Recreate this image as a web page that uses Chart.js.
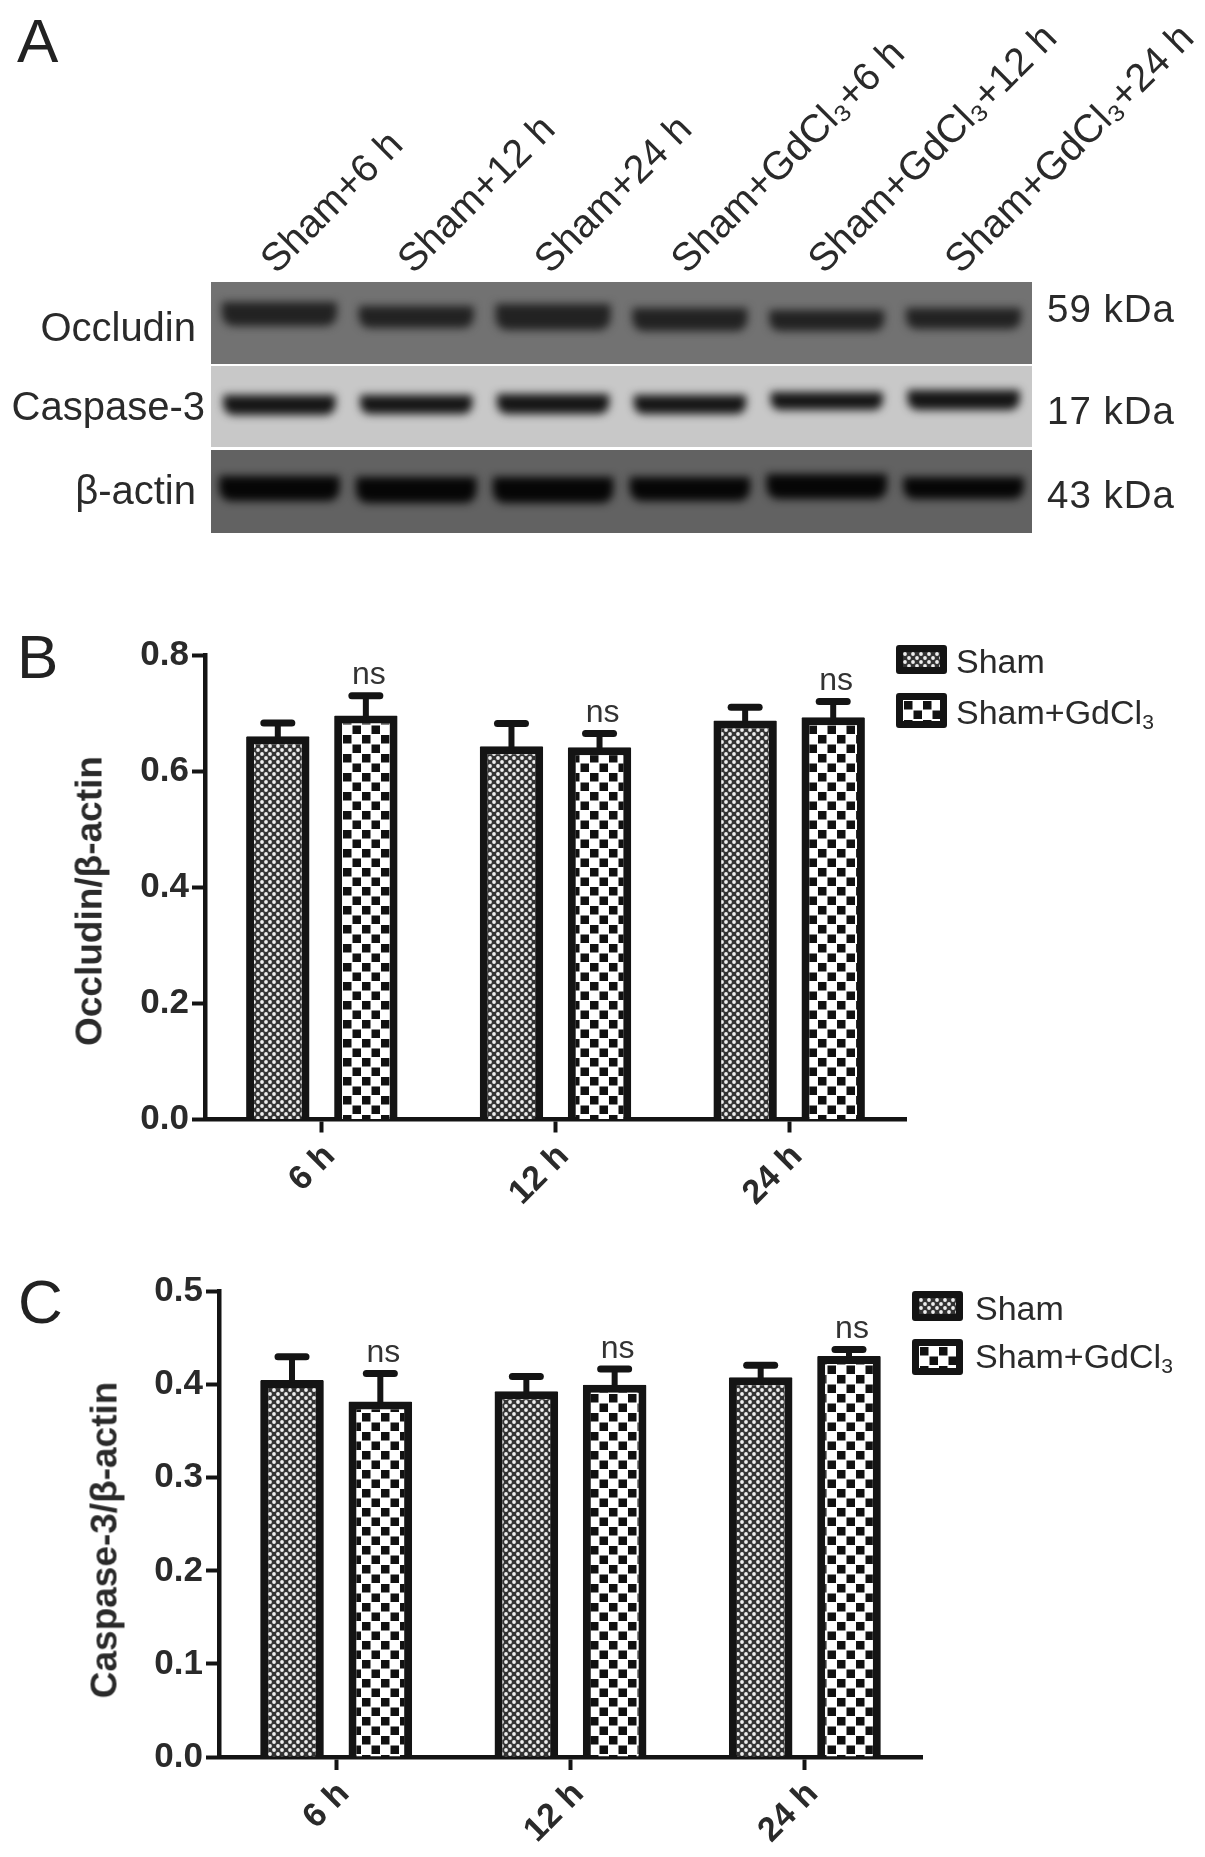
<!DOCTYPE html>
<html>
<head>
<meta charset="utf-8">
<title>Occludin and Caspase-3 blots</title>
<script src="https://cdn.jsdelivr.net/npm/chart.js@4"></script>
<style>
    html, body { margin: 0; padding: 0; background: #fff; }
    #page { position: relative; width: 1205px; height: 1857px; overflow: hidden; font-family: "Liberation Sans", Arial, sans-serif; color: #2a2a2a; }
    canvas { position: absolute; left: 0; filter: blur(0.5px); }
    .lbl { position: absolute; white-space: nowrap; line-height: 1; filter: blur(0.3px); }
    .letter { font-size: 62px; color: #222; }
    .ytitle { font-size: 37px; font-weight: bold; transform: translate(-50%, -50%) rotate(-90deg); }
    .swatch { position: absolute; box-sizing: border-box; border: 7px solid #141414; border-radius: 3px; }
    sub { font-size: 0.62em; line-height: 0; vertical-align: -0.22em; }
</style>
</head>
<body>
<div id="page">
    <canvas id="blotChart" width="1205" height="560" style="top:0"></canvas>
    <canvas id="occludinChart" width="1205" height="610" style="top:620px"></canvas>
    <canvas id="caspaseChart" width="1205" height="597" style="top:1260px"></canvas>
</div>

<script>
// Bar chart data
const timePoints = ['6 h', '12 h', '24 h'];
const seriesNames = ['Sham', 'Sham+GdCl3'];
const occludinSham = [0.660, 0.643, 0.687];
const occludinShamErr = [0.023, 0.039, 0.023];
const occludinGd = [0.696, 0.641, 0.693];
const occludinGdErr = [0.034, 0.024, 0.027];
const caspaseSham = [0.405, 0.393, 0.408];
const caspaseShamErr = [0.025, 0.016, 0.013];
const caspaseGd = [0.382, 0.400, 0.431];
const caspaseGdErr = [0.030, 0.017, 0.007];
const nsLabels = ['ns', 'ns', 'ns'];

// Blot data: lanes, and each band's extent down the membrane
const lanes = ['Sham+6 h', 'Sham+12 h', 'Sham+24 h', 'Sham+GdCl₃+6 h', 'Sham+GdCl₃+12 h', 'Sham+GdCl₃+24 h'];
const blotRows = ['Occludin', 'Caspase-3', 'β-actin'];
const blotSizes = ['59 kDa', '17 kDa', '43 kDa'];
const occludinBands = [[20, 44], [24, 46], [22, 48], [26, 49], [28, 49], [26, 47]];
const caspaseBands = [[113, 133], [113, 132], [112, 132], [113, 132], [110, 128], [108, 128]];
const actinBands = [[194, 219], [195, 221], [195, 221], [195, 219], [192, 217], [195, 217]];
const membraneStrips = [[0, 82], [84, 165], [168, 251]];
const stripColors = ['#727272', '#c8c8c8', '#626262'];

const page = document.getElementById('page');
const ink = '#141414';

function addLabel(html, cls, style) {
    const el = document.createElement('div');
    el.className = 'lbl ' + cls;
    el.innerHTML = html;
    Object.assign(el.style, style);
    page.appendChild(el);
    return el;
}

// Fill patterns
function finePattern() {
    const c = document.createElement('canvas');
    c.width = 8; c.height = 8;
    const g = c.getContext('2d');
    g.fillStyle = '#333';
    g.fillRect(0, 0, 8, 8);
    g.fillStyle = '#eee';
    [[2, 2], [6, 6]].forEach(([x, y]) => {
        g.beginPath();
        g.arc(x, y, 1.9, 0, Math.PI * 2);
        g.fill();
    });
    return c;
}

function checkerPattern() {
    const c = document.createElement('canvas');
    c.width = 19; c.height = 19;
    const g = c.getContext('2d');
    g.fillStyle = '#fff';
    g.fillRect(0, 0, 19, 19);
    g.fillStyle = '#111';
    g.fillRect(1, 1, 8.5, 8.5);
    g.fillRect(10.5, 10.5, 8.5, 8.5);
    return c;
}

const fineTile = finePattern();
const checkerTile = checkerPattern();
const patternCtx = document.createElement('canvas').getContext('2d');
const fineFill = patternCtx.createPattern(fineTile, 'repeat');
const checkerFill = patternCtx.createPattern(checkerTile, 'repeat');

// Error bars and "ns" marks, placed from the bars and the y scale
const errorBarPlugin = {
    id: 'errorBars',
    afterDatasetsDraw(chart) {
        const ctx = chart.ctx;
        const y = chart.scales.y;
        chart.data.datasets.forEach((ds, d) => {
            chart.getDatasetMeta(d).data.forEach((bar, i) => {
                const top = y.getPixelForValue(ds.data[i]);
                const capY = y.getPixelForValue(ds.data[i] + ds.errors[i]);
                ctx.save();
                ctx.strokeStyle = ink;
                ctx.lineWidth = 6;
                ctx.beginPath();
                ctx.moveTo(bar.x, top + 2);
                ctx.lineTo(bar.x, capY);
                ctx.stroke();
                ctx.lineWidth = 7;
                ctx.lineCap = 'round';
                ctx.beginPath();
                ctx.moveTo(bar.x - 14, capY);
                ctx.lineTo(bar.x + 14, capY);
                ctx.stroke();
                if (ds.marks) {
                    ctx.fillStyle = '#333';
                    ctx.font = '32px "Liberation Sans"';
                    ctx.textAlign = 'center';
                    ctx.textBaseline = 'middle';
                    ctx.fillText(ds.marks[i], bar.x + 3, capY - 20);
                }
                ctx.restore();
            });
        });
    }
};

function barChart(id, opts) {
    return new Chart(document.getElementById(id), {
        type: 'bar',
        data: {
            labels: timePoints,
            datasets: [
                {
                    label: seriesNames[0], data: opts.sham, errors: opts.shamErr,
                    backgroundColor: fineFill, borderColor: ink, borderWidth: 8, borderRadius: 1,
                    categoryPercentage: 0.7537, barPercentage: 0.72
                },
                {
                    label: seriesNames[1], data: opts.gd, errors: opts.gdErr, marks: nsLabels,
                    backgroundColor: checkerFill, borderColor: ink, borderWidth: 8, borderRadius: 1,
                    categoryPercentage: 0.7537, barPercentage: 0.72
                }
            ]
        },
        options: {
            responsive: false,
            animation: false,
            layout: { padding: opts.padding },
            plugins: { legend: { display: false }, tooltip: { enabled: false } },
            scales: {
                x: {
                    border: { color: ink, width: 4.5 },
                    grid: { display: true, offset: false, drawOnChartArea: false, drawTicks: true, tickLength: 13, tickWidth: 4, tickColor: ink },
                    ticks: {
                        color: '#2a2a2a', font: { family: 'Liberation Sans', size: 34, weight: 'bold' },
                        minRotation: 45, maxRotation: 45, autoSkip: false, padding: 4, labelOffset: 8
                    },
                    afterFit: (s) => { s.height = opts.xHeight; }
                },
                y: {
                    min: 0, max: opts.max,
                    border: { color: ink, width: 4.5 },
                    grid: { display: true, drawOnChartArea: false, drawTicks: true, tickLength: 13, tickWidth: 4, tickColor: ink },
                    ticks: {
                        stepSize: opts.step, color: '#2a2a2a', padding: 3,
                        font: { family: 'Liberation Sans', size: 35, weight: 'bold' },
                        callback: (v) => v.toFixed(1)
                    },
                    afterFit: (s) => { s.width = opts.yWidth; }
                }
            }
        },
        plugins: [errorBarPlugin]
    });
}

barChart('occludinChart', {
    sham: occludinSham, shamErr: occludinShamErr, gd: occludinGd, gdErr: occludinGdErr,
    max: 0.8, step: 0.2, xHeight: 110.5, yWidth: 205,
    padding: { top: 35, right: 299, bottom: 0, left: 0 }
});

barChart('caspaseChart', {
    sham: caspaseSham, shamErr: caspaseShamErr, gd: caspaseGd, gdErr: caspaseGdErr,
    max: 0.5, step: 0.1, xHeight: 100, yWidth: 219,
    padding: { top: 31.7, right: 283, bottom: 0, left: 0 }
});

// Western blot panel: membrane strips behind, blurred bands on top
const membranePlugin = {
    id: 'membrane',
    beforeDatasetsDraw(chart) {
        const { ctx, chartArea, scales } = chart;
        membraneStrips.forEach((strip, i) => {
            const top = scales.y.getPixelForValue(strip[0]);
            const bottom = scales.y.getPixelForValue(strip[1]);
            ctx.fillStyle = stripColors[i];
            ctx.fillRect(chartArea.left, top, chartArea.right - chartArea.left, bottom - top);
        });
    },
    beforeDatasetDraw(chart) { chart.ctx.filter = 'blur(4px)'; },
    afterDatasetDraw(chart) { chart.ctx.filter = 'none'; }
};

new Chart(document.getElementById('blotChart'), {
    type: 'bar',
    data: {
        labels: lanes,
        datasets: [
            { label: blotRows[0], data: occludinBands, backgroundColor: '#222', borderRadius: 12, grouped: false, barPercentage: 0.84, categoryPercentage: 1 },
            { label: blotRows[1], data: caspaseBands, backgroundColor: '#161616', borderRadius: 10, grouped: false, barPercentage: 0.82, categoryPercentage: 1 },
            { label: blotRows[2], data: actinBands, backgroundColor: '#060606', borderRadius: 12, grouped: false, barPercentage: 0.88, categoryPercentage: 1 }
        ]
    },
    options: {
        responsive: false,
        animation: false,
        layout: { padding: { top: 0, right: 173, bottom: 27, left: 211 } },
        plugins: { legend: { display: false }, tooltip: { enabled: false } },
        scales: {
            x: {
                position: 'top',
                border: { display: false },
                grid: { display: false },
                ticks: {
                    color: '#2a2a2a', font: { family: 'Liberation Sans', size: 39.5 },
                    minRotation: 45, maxRotation: 45, autoSkip: false, labelOffset: 23, padding: -10
                },
                afterFit: (s) => { s.height = 282; }
            },
            y: { display: false, reverse: true, min: 0, max: 251 }
        }
    },
    plugins: [membranePlugin]
});

// Panel letters
addLabel('A', 'letter', { left: '17px', top: '10px' });
addLabel('B', 'letter', { left: '17px', top: '626px' });
addLabel('C', 'letter', { left: '18px', top: '1271px' });

// Blot row names and sizes
const rowNameY = [327, 406, 490];
const rowNameRight = [1009, 1000, 1009];
const rowSizeY = [309, 411, 495];
blotRows.forEach((name, i) => {
    addLabel(name, '', { right: rowNameRight[i] + 'px', top: rowNameY[i] + 'px', fontSize: '40px', transform: 'translateY(-50%)' });
    addLabel(blotSizes[i], '', { left: '1047px', top: rowSizeY[i] + 'px', fontSize: '38.5px', transform: 'translateY(-50%)', letterSpacing: '1px' });
});

// Y axis titles
addLabel('Occludin/β-actin', 'ytitle', { left: '89px', top: '901px' });
addLabel('Caspase-3/β-actin', 'ytitle', { left: '104px', top: '1540px' });

// Legends
function addLegend(x, textX, first, second) {
    const fills = [fineTile, checkerTile];
    const names = [seriesNames[0], 'Sham+GdCl<sub>3</sub>'];
    [first, second].forEach((row, i) => {
        const s = document.createElement('div');
        s.className = 'swatch';
        s.style.left = x + 'px';
        s.style.top = row.top + 'px';
        s.style.width = '51px';
        s.style.height = row.height + 'px';
        s.style.backgroundImage = 'url(' + fills[i].toDataURL() + ')';
        page.appendChild(s);
        addLabel(names[i], '', { left: textX + 'px', top: row.text + 'px', fontSize: '34px', transform: 'translateY(-50%)' });
    });
}
addLegend(896, 956, { top: 645, height: 29, text: 661 }, { top: 693, height: 35, text: 712 });
addLegend(912, 975, { top: 1291, height: 30, text: 1308 }, { top: 1339, height: 36, text: 1356 });
</script>
</body>
</html>
